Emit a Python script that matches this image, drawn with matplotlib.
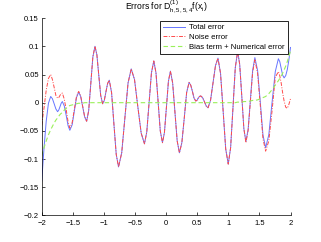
import numpy as np
import matplotlib.pyplot as plt

# x positions (extrema plus points in between)
x = [-2.0, -1.964, -1.928, -1.892, -1.856, -1.828, -1.800, -1.773,
     -1.745, -1.726, -1.706, -1.687, -1.668, -1.637, -1.606, -1.576,
     -1.548, -1.510, -1.476, -1.441, -1.406, -1.374, -1.342, -1.310,
     -1.278, -1.245, -1.211, -1.178, -1.144, -1.113, -1.083, -1.052,
     -1.021, -0.994, -0.968, -0.941, -0.914, -0.877, -0.840, -0.802,
     -0.765, -0.714, -0.663, -0.612, -0.561, -0.508, -0.455, -0.401,
     -0.348, -0.311, -0.273, -0.236, -0.198, -0.163, -0.129, -0.094,
     -0.059, -0.027, 0.005, 0.037, 0.069, 0.105, 0.142, 0.178,
     0.214, 0.253, 0.292, 0.330, 0.369, 0.396, 0.423, 0.449,
     0.476, 0.496, 0.516, 0.536, 0.556, 0.586, 0.615, 0.645,
     0.674, 0.714, 0.754, 0.794, 0.834, 0.875, 0.917, 0.958,
     0.999, 1.037, 1.075, 1.112, 1.150, 1.183, 1.217, 1.250,
     1.283, 1.319, 1.355, 1.391, 1.427, 1.471, 1.515, 1.557,
     1.600, 1.651, 1.703, 1.755, 1.805, 1.827, 1.850, 1.873,
     1.897, 1.923, 1.949, 1.974, 2.000]

total_err = [-0.139, -0.082, -0.033, -0.001, 0.011, 0.007, -0.002, -0.011,
             -0.016, -0.013, -0.007, -0.001, 0.002, -0.006, -0.023, -0.041,
             -0.049, -0.039, -0.015, 0.009, 0.019, 0.011, -0.007, -0.025,
             -0.033, -0.014, 0.034, 0.081, 0.100, 0.085, 0.049, 0.013,
             -0.002, 0.004, 0.019, 0.034, 0.040, 0.018, -0.037, -0.092,
             -0.114, -0.089, -0.027, 0.035, 0.060, 0.041, -0.007, -0.054,
             -0.073, -0.052, 0.001, 0.053, 0.074, 0.053, 0.002, -0.050,
             -0.071, -0.053, -0.008, 0.038, 0.056, 0.035, -0.017, -0.068,
             -0.089, -0.071, -0.027, 0.018, 0.036, 0.031, 0.020, 0.008,
             0.003, 0.004, 0.008, 0.011, 0.012, 0.009, 0.002, -0.006,
             -0.009, 0.004, 0.035, 0.066, 0.079, 0.052, -0.015, -0.082,
             -0.109, -0.080, -0.009, 0.062, 0.091, 0.068, 0.011, -0.046,
             -0.069, -0.047, 0.005, 0.057, 0.080, 0.057, 0.000, -0.057,
             -0.080, -0.057, 0.000, 0.055, 0.078, 0.073, 0.061, 0.049,
             0.044, 0.048, 0.059, 0.076, 0.098]

# noise error: differs from total only near the two ends
noise_left = [-0.040, -0.010, 0.022, 0.043, 0.050, 0.041, 0.027, 0.013,
              0.008, 0.009, 0.013, 0.016, 0.017, 0.006, -0.013, -0.034,
              -0.045, -0.035, -0.012, 0.011, 0.020, 0.012, -0.006, -0.025,
              -0.033]
noise_right = [-0.071, -0.049, 0.002, 0.054, 0.076, 0.052, -0.006, -0.064,
               -0.086, -0.068, -0.015, 0.045, 0.055, 0.048, 0.035, 0.018,
               0.003, -0.008, -0.010, -0.003, 0.007]
noise_err = noise_left + total_err[25:96] + noise_right

bias_left = [-0.094, -0.080, -0.068, -0.057, -0.048, -0.042, -0.036, -0.031,
             -0.027, -0.024, -0.021, -0.019, -0.017, -0.013, -0.010, -0.007,
             -0.005, -0.004, -0.003, -0.002, -0.001, -0.001, -0.001]
bias_right = [0.0, 0.0, 0.0, 0.0, 0.001, 0.001, 0.001, 0.002,
              0.002, 0.002, 0.003, 0.004, 0.004, 0.005, 0.007, 0.009,
              0.011, 0.016, 0.023, 0.031, 0.039, 0.043, 0.047, 0.052,
              0.058, 0.065, 0.073, 0.082, 0.092]
bias_err = bias_left + [0.0] * 65 + bias_right

xticks = [-2, -1.5, -1, -0.5, 0, 0.5, 1, 1.5, 2]
xticklabels = ['\u22122', '\u22121.5', '\u22121', '\u22120.5', '0', '0.5', '1', '1.5', '2']
yticks = [-0.2, -0.15, -0.1, -0.05, 0, 0.05, 0.1, 0.15]
yticklabels = ['\u22120.2', '\u22120.15', '\u22120.1', '\u22120.05', '0', '0.05', '0.1', '0.15']
legend_labels = ['Total error', 'Noise error', 'Bias term + Numerical error']

plt.rcParams['font.family'] = ['Liberation Sans', 'DejaVu Sans']
plt.rcParams['font.size'] = 5.5

fig = plt.figure(figsize=(3.21, 2.42), dpi=100)
ax = fig.add_axes([0.13, 0.11, 0.775, 0.815])

ax.plot(x, total_err, color='#6675ff', lw=0.7, label=legend_labels[0])
ax.plot(x, noise_err, color='#ff4a4a', lw=0.7, ls=(0, (4, 1.5, 1, 1.5)), label=legend_labels[1])
ax.plot(x, bias_err, color='#9af05a', lw=0.8, ls=(0, (4, 2.5)), label=legend_labels[2])

ax.set_xlim(-2, 2)
ax.set_ylim(-0.2, 0.15)
ax.set_xticks(xticks)
ax.set_xticklabels(xticklabels)
ax.set_yticks(yticks)
ax.set_yticklabels(yticklabels)
ax.tick_params(direction='in', length=2.5, width=0.5, pad=2, labelsize=5.5)
ax.tick_params(axis='x', pad=3)

# matlab "box off" look
ax.spines['top'].set_visible(False)
ax.spines['right'].set_visible(False)
for s in ['left', 'bottom']:
    ax.spines[s].set_linewidth(0.5)

ax.set_title(r'Errors for $\mathregular{D^{(1)}_{h,5,5,4}f(x_i)}$', fontsize=6.2, pad=6)

leg = ax.legend(loc='upper right', fontsize=5.6, fancybox=False, framealpha=1,
                edgecolor='black', handlelength=2.8, borderpad=0.4,
                labelspacing=0.3, handletextpad=0.5, borderaxespad=0.35)
leg.get_frame().set_linewidth(0.6)

fig.savefig('out.png', dpi=100)
